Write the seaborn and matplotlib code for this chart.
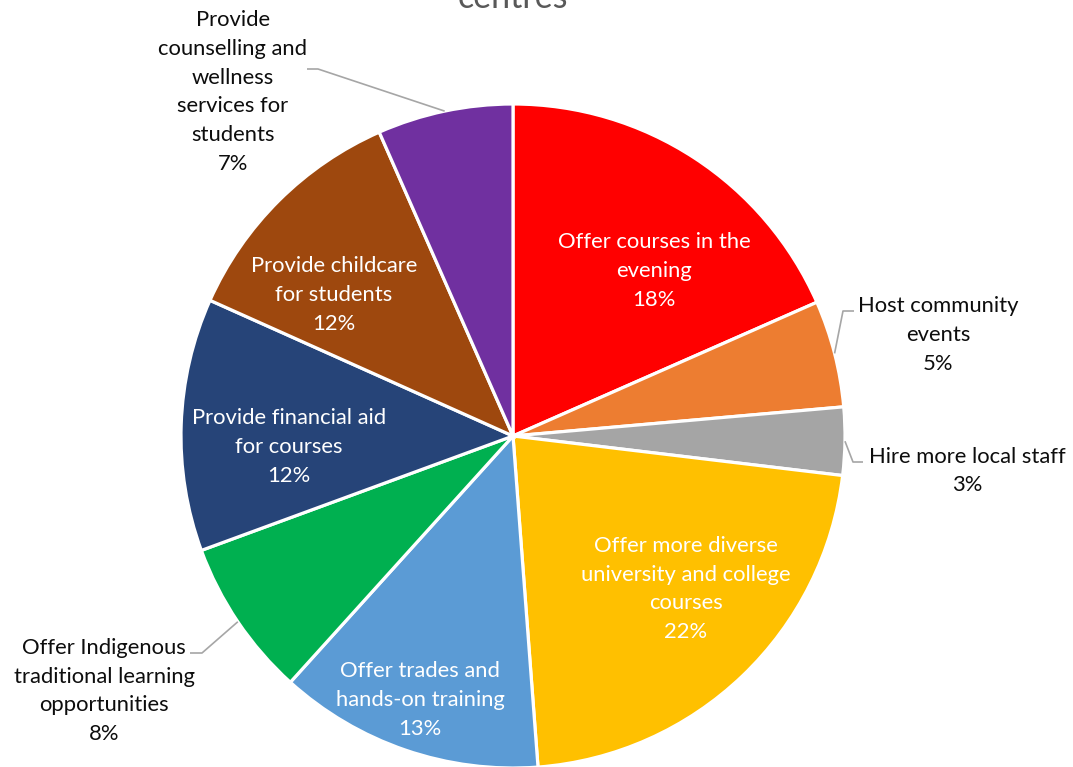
import matplotlib
matplotlib.use("Agg")
import matplotlib.pyplot as plt
import seaborn as sns
import numpy as np

sns.set_theme(style="white")
plt.rcParams["font.family"] = ["Lato", "DejaVu Sans"]

# Share of respondents per requested service (clockwise from 12 o'clock)
categories = [
    "Offer courses in the\nevening",
    "Host community\nevents",
    "Hire more local staff",
    "Offer more diverse\nuniversity and college\ncourses",
    "Offer trades and\nhands-on training",
    "Offer Indigenous\ntraditional learning\nopportunities",
    "Provide financial aid\nfor courses",
    "Provide childcare\nfor students",
    "Provide\ncounselling and\nwellness\nservices for\nstudents",
]
shares = [18.4, 5.2, 3.3, 21.9, 12.9, 7.7, 12.3, 11.7, 6.6]
colors = ["#FF0000", "#ED7D31", "#A5A5A5", "#FFC000", "#5B9BD5",
          "#00B050", "#264478", "#9E480E", "#7030A0"]
title_text = "centres"

# Label layout: inside (white) or outside (black with leader line),
# offsets of the label centre from the pie centre in pixels
inside = [True, False, False, True, True, False, True, True, False]
label_offsets = [(141, 165), (425, 101), (454, -35), (173, -153), (-93, -264),
                 (-409, -255), (-224, -11), (-179, 141), (-280, 344)]
# Elbow of leader lines and end of the short horizontal stub
leader_elbow = {1: ((330, 125), (341, 125)), 2: ((340, -26), (350, -26)),
                5: ((-311, -217), (-323, -217)), 8: ((-195, 367), (-206, 367))}

W, H = 1073, 767
fig = plt.figure(figsize=(W / 100, H / 100), dpi=100)
ax = fig.add_axes([0, 0, 1, 1])

cx, cy, R = 513, H - 436, 332
wedges, _ = ax.pie(shares, colors=colors, startangle=90, counterclock=False,
                   center=(cx, cy), radius=R, frame=True,
                   wedgeprops=dict(edgecolor="white", linewidth=2.3))
ax.set_xlim(0, W)
ax.set_ylim(0, H)
ax.set_aspect("auto")
ax.axis("off")

for i, (cat, v) in enumerate(zip(categories, shares)):
    dx, dy = label_offsets[i]
    txt = f"{cat}\n{v:.0f}%"
    ax.text(cx + dx, cy + dy, txt, ha="center", va="center",
            color="white" if inside[i] else "#0D0D0D", fontsize=15.8,
            linespacing=1.55)
    if i in leader_elbow:
        w = wedges[i]
        mid = np.deg2rad((w.theta1 + w.theta2) / 2)
        sx, sy = cx + R * np.cos(mid), cy + R * np.sin(mid)
        (ex, ey), (tx, ty) = leader_elbow[i]
        ax.plot([sx, cx + ex, cx + tx], [sy, cy + ey, cy + ty],
                color="#A6A6A6", lw=1.2, solid_capstyle="butt")

fig.text(cx / W, 1 - 8 / H, title_text, ha="center", va="baseline",
         fontsize=24.5, color="#595959")

fig.savefig("out.png", dpi=100, facecolor="white")
